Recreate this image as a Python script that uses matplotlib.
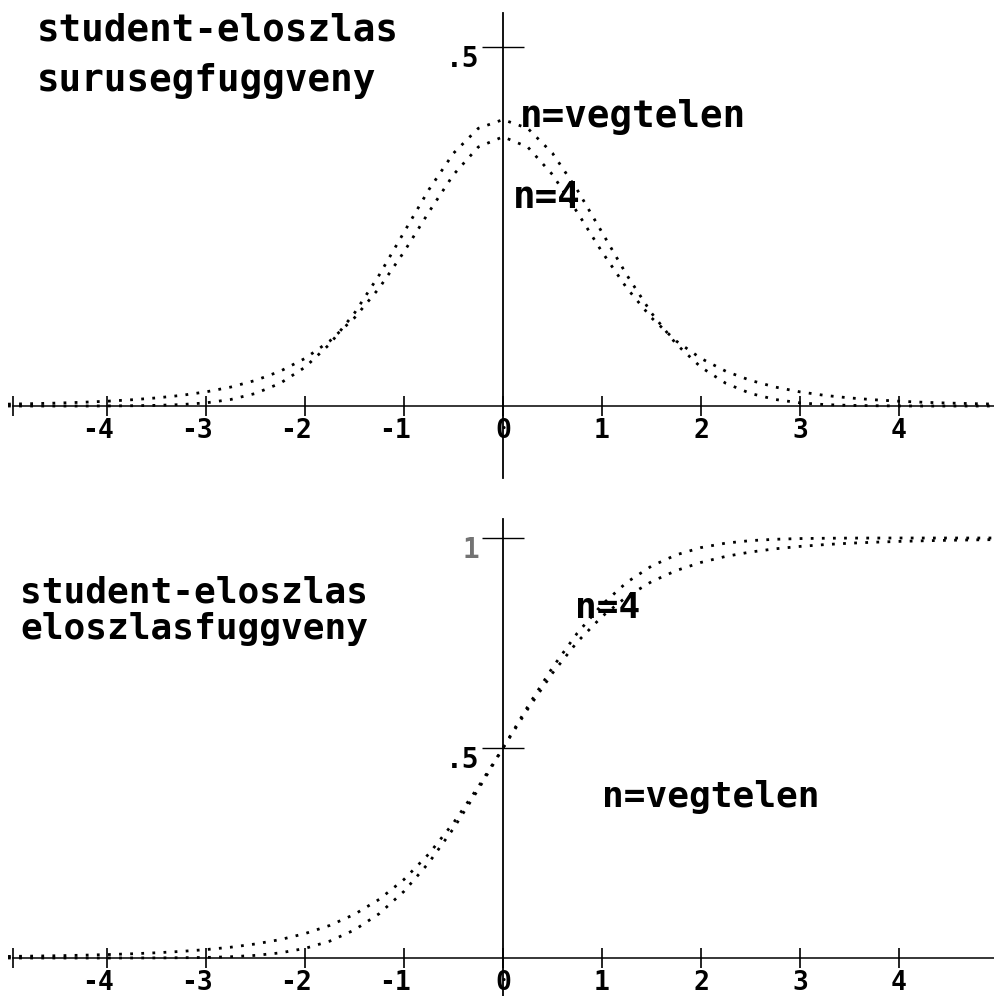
import matplotlib
matplotlib.use("Agg")
import matplotlib.pyplot as plt
import matplotlib.transforms as mtransforms

x_vals = [-5.0, -4.75, -4.5, -4.25, -4.0, -3.75, -3.5, -3.25, -3.0, -2.75,
          -2.5, -2.25, -2.0, -1.75, -1.5, -1.25, -1.0, -0.75, -0.5, -0.25,
          0.0, 0.25, 0.5, 0.75, 1.0, 1.25, 1.5, 1.75, 2.0, 2.25,
          2.5, 2.75, 3.0, 3.25, 3.5, 3.75, 4.0, 4.25, 4.5, 4.75, 5.0]

# density (surusegfuggveny), n = vegtelen and n = 4
pdf_inf = [0.0000, 0.0000, 0.0000, 0.0000, 0.0001, 0.0004, 0.0009, 0.0020, 0.0044, 0.0091,
           0.0175, 0.0317, 0.0540, 0.0863, 0.1295, 0.1826, 0.2420, 0.3011, 0.3521, 0.3867,
           0.3989, 0.3867, 0.3521, 0.3011, 0.2420, 0.1826, 0.1295, 0.0863, 0.0540, 0.0317,
           0.0175, 0.0091, 0.0044, 0.0020, 0.0009, 0.0004, 0.0001, 0.0000, 0.0000, 0.0000, 0.0000]
pdf_n4 = [0.0026, 0.0033, 0.0041, 0.0052, 0.0067, 0.0087, 0.0113, 0.0148, 0.0197, 0.0264,
          0.0357, 0.0485, 0.0663, 0.0905, 0.1229, 0.1644, 0.2147, 0.2699, 0.3223, 0.3607,
          0.3750, 0.3607, 0.3223, 0.2699, 0.2147, 0.1644, 0.1229, 0.0905, 0.0663, 0.0485,
          0.0357, 0.0264, 0.0197, 0.0148, 0.0113, 0.0087, 0.0067, 0.0052, 0.0041, 0.0033, 0.0026]

# distribution function (eloszlasfuggveny)
cdf_inf = [0.0000, 0.0000, 0.0000, 0.0000, 0.0000, 0.0001, 0.0002, 0.0006, 0.0013, 0.0030,
           0.0062, 0.0122, 0.0228, 0.0401, 0.0668, 0.1056, 0.1587, 0.2266, 0.3085, 0.4013,
           0.5000, 0.5987, 0.6915, 0.7734, 0.8413, 0.8944, 0.9332, 0.9599, 0.9772, 0.9878,
           0.9938, 0.9970, 0.9987, 0.9994, 0.9998, 0.9999, 1.0000, 1.0000, 1.0000, 1.0000, 1.0000]
cdf_n4 = [0.0037, 0.0045, 0.0054, 0.0066, 0.0081, 0.0100, 0.0124, 0.0157, 0.0200, 0.0257,
          0.0334, 0.0438, 0.0581, 0.0775, 0.1040, 0.1397, 0.1870, 0.2475, 0.3217, 0.4075,
          0.5000, 0.5925, 0.6783, 0.7525, 0.8130, 0.8603, 0.8960, 0.9225, 0.9419, 0.9562,
          0.9666, 0.9743, 0.9800, 0.9843, 0.9876, 0.9900, 0.9919, 0.9934, 0.9946, 0.9955, 0.9963]

x_ticks = [-4, -3, -2, -1, 0, 1, 2, 3, 4]
x_ticklabels = ["-4", "-3", "-2", "-1", "0", "1", "2", "3", "4"]

FONT = "DejaVu Sans Mono"
DOTS = (0, (1, 3))

fig = plt.figure(figsize=(9.94, 9.96), dpi=100)
ax_top = fig.add_axes([0.0, 496 / 996, 1.0, 500 / 996])
ax_bot = fig.add_axes([0.0, 0.0, 1.0, 496 / 996])


def setup_axis(ax, ylim, ybounds, yticks, yticklabels):
    ax.set_xlim(-5.081, 4.960)
    ax.set_ylim(*ylim)
    ax.patch.set_alpha(0)
    for side in ("top", "right"):
        ax.spines[side].set_visible(False)
    ax.spines["bottom"].set_position(("data", 0))
    ax.spines["left"].set_position(("data", 0))
    ax.spines["bottom"].set_bounds(-4.95, 4.96)
    ax.spines["left"].set_bounds(*ybounds)
    ax.spines["bottom"].set_linewidth(1.1)
    ax.spines["left"].set_linewidth(1.3)

    ax.set_xticks(x_ticks)
    ax.set_xticklabels(x_ticklabels, fontfamily=FONT, fontweight="bold", fontsize=19)
    ax.set_xticks([-4.95], minor=True)
    ax.tick_params(axis="x", which="both", direction="inout", length=15, width=1.2, pad=1)

    ax.set_yticks(yticks)
    ax.set_yticklabels(yticklabels, fontfamily=FONT, fontweight="bold", fontsize=20)
    ax.tick_params(axis="y", direction="inout", length=30, width=1.0, pad=2)

    # negative labels: digit sits under the tick, minus sign hangs to the left
    for lab in ax.get_xticklabels():
        if lab.get_text().startswith("-"):
            lab.set_horizontalalignment("right")
            off = mtransforms.ScaledTranslation(7 / 100, 0, fig.dpi_scale_trans)
            lab.set_transform(lab.get_transform() + off)
    for lab in ax.get_yticklabels():
        off = mtransforms.ScaledTranslation(0, -9 / 100, fig.dpi_scale_trans)
        lab.set_transform(lab.get_transform() + off)


# --- top: density ---
setup_axis(ax_top, (-0.1309, 0.5655), (-0.10, 0.547), [0.5], [".5"])
ax_top.plot(x_vals, pdf_inf, color="black", lw=2.0, ls=DOTS)
ax_top.plot(x_vals, pdf_n4, color="black", lw=2.0, ls=DOTS)

txt = dict(fontfamily=FONT, fontweight="bold", fontsize=27, color="black", va="baseline")
ax_top.text(-4.707, 0.5097, "student-eloszlas", **txt)
ax_top.text(-4.707, 0.4387, "surusegfuggveny", **txt)
ax_top.text(0.172, 0.3886, "n=vegtelen", **txt)
ax_top.text(0.101, 0.2758, "n=4", **txt)

# --- bottom: distribution function ---
setup_axis(ax_bot, (-0.0905, 1.0905), (-0.09, 1.045), [0.5, 1.0], [".5", "1"])
ax_bot.get_yticklabels()[1].set_color("0.45")
ax_bot.plot(x_vals, cdf_inf, color="black", lw=2.0, ls=DOTS)
ax_bot.plot(x_vals, cdf_n4, color="black", lw=2.0, ls=DOTS)

txt_bot = dict(txt, fontsize=26)
ax_bot.text(-4.879, 0.8476, "student-eloszlas", **txt_bot)
ax_bot.text(-4.879, 0.7595, "eloszlasfuggveny", **txt_bot)
ax_bot.text(0.727, 0.8095, "n=4", **txt_bot)
ax_bot.text(1.0, 0.3595, "n=vegtelen", **txt_bot)

fig.savefig("out.png", dpi=100)
